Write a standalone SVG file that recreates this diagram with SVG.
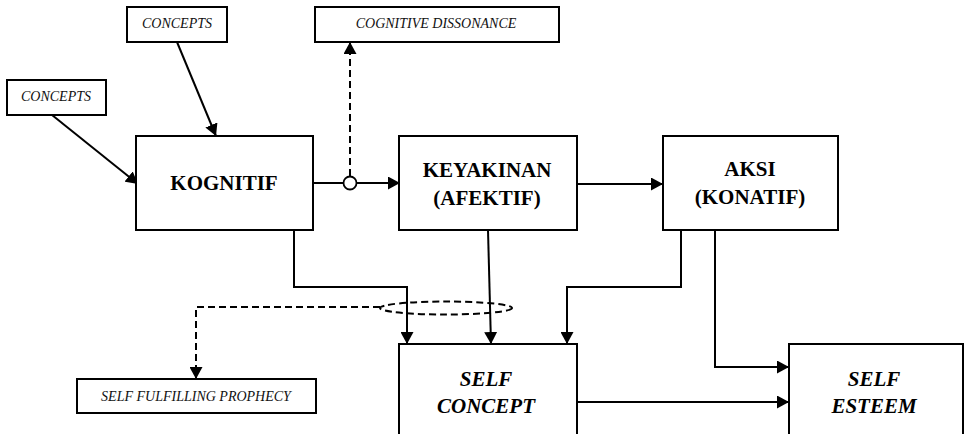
<svg xmlns="http://www.w3.org/2000/svg" width="964" height="434" viewBox="0 0 964 434">
<style>
.box{fill:#fff;stroke:#000;stroke-width:2}
.sm{font-family:'Liberation Serif','Times New Roman',serif;font-style:italic;font-size:14px;text-anchor:middle;fill:#111}
.big{font-family:'Liberation Serif','Times New Roman',serif;font-weight:bold;font-size:21px;text-anchor:middle;fill:#000}
.bi{font-style:italic}
.ln{fill:none;stroke:#000;stroke-width:2}
.ar{marker-end:url(#ah)}
.dash{stroke-dasharray:7,4}
</style>
<defs>
<marker id="ah" markerUnits="userSpaceOnUse" markerWidth="13" markerHeight="13" refX="12" refY="6.5" orient="auto">
<path d="M0,0 L12,6.5 L0,13 z" fill="#000"/>
</marker>
</defs>
<rect width="964" height="434" fill="#fff"/>
<g id="connectors">
<line class="ln ar" x1="177" y1="42" x2="216" y2="136"/>
<line class="ln ar" x1="52" y1="115" x2="138" y2="184"/>
<line class="ln ar" x1="313" y1="183" x2="400" y2="183"/>
<line class="ln ar dash" x1="350" y1="176" x2="350" y2="42"/>
<circle cx="350" cy="183" r="6.5" fill="#fff" stroke="#000" stroke-width="1.8"/>
<line class="ln ar" x1="577" y1="184" x2="663" y2="184"/>
<polyline class="ln ar" points="294,230 294,287 407,287 407,344"/>
<line class="ln ar" x1="488" y1="230" x2="491" y2="344"/>
<polyline class="ln ar" points="681,230 681,287 567,287 567,344"/>
<polyline class="ln ar" points="715,230 715,367 789,367"/>
<line class="ln ar" x1="577" y1="402" x2="789" y2="402"/>
<ellipse class="ln dash" cx="446" cy="308" rx="66" ry="6.5"/>
<polyline class="ln ar dash" points="380,307 196,307 196,379"/>
</g>
<g id="concepts-top">
<rect class="box" x="127" y="7" width="100" height="35"/>
<text class="sm" x="177" y="28">CONCEPTS</text>
</g>
<g id="concepts-left">
<rect class="box" x="7" y="80" width="99" height="35"/>
<text class="sm" x="56" y="101">CONCEPTS</text>
</g>
<g id="cognitive-dissonance">
<rect class="box" x="315" y="7" width="244" height="35"/>
<text class="sm" x="436" y="28">COGNITIVE DISSONANCE</text>
</g>
<g id="kognitif">
<rect class="box" x="136" y="136" width="177" height="94"/>
<text class="big" x="224" y="190">KOGNITIF</text>
</g>
<g id="keyakinan">
<rect class="box" x="399" y="136" width="178" height="94"/>
<text class="big" x="487" y="177">KEYAKINAN</text>
<text class="big" x="487" y="205">(AFEKTIF)</text>
</g>
<g id="aksi">
<rect class="box" x="663" y="136" width="175" height="94"/>
<text class="big" x="750" y="176">AKSI</text>
<text class="big" x="750" y="204">(KONATIF)</text>
</g>
<g id="self-fulfilling-prophecy">
<rect class="box" x="77" y="379" width="239" height="34"/>
<text class="sm" x="196" y="401">SELF FULFILLING PROPHECY</text>
</g>
<g id="self-concept">
<rect class="box" x="399" y="344" width="178" height="100"/>
<text class="big bi" x="486" y="386">SELF</text>
<text class="big bi" x="486" y="413">CONCEPT</text>
</g>
<g id="self-esteem">
<rect class="box" x="789" y="344" width="174" height="100"/>
<text class="big bi" x="874" y="386">SELF</text>
<text class="big bi" x="874" y="413">ESTEEM</text>
</g>
</svg>
